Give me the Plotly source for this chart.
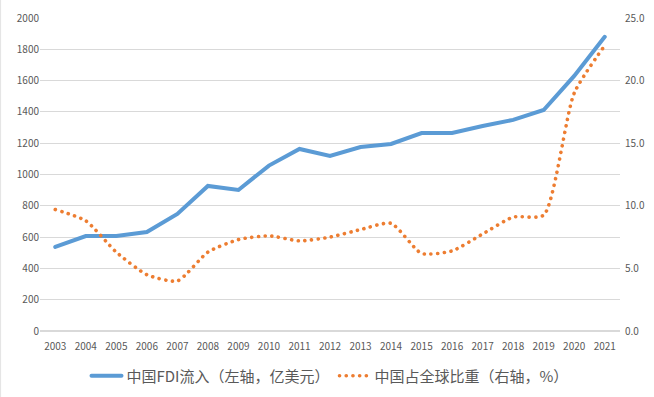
import plotly.graph_objects as go

years = [str(y) for y in range(2003, 2022)]
fdi = [537, 607, 607, 632, 748, 927, 901, 1057, 1163, 1118, 1176, 1195,
       1265, 1265, 1310, 1349, 1412, 1630, 1880]
share = [9.7, 8.8, 6.3, 4.5, 4.0, 6.3, 7.3, 7.6, 7.2, 7.5, 8.1, 8.6,
         6.2, 6.4, 7.75, 9.1, 9.25, 19.0, 22.8]

name1 = "中国FDI流入（左轴，亿美元）"
name2 = "中国占全球比重（右轴，%）"

font_family = "Noto Sans CJK SC, Noto Sans, sans-serif"
gray = "#595959"

fig = go.Figure()
fig.add_trace(go.Scatter(x=years, y=fdi, name=name1, mode="lines",
                         line=dict(color="#5B9BD5", width=4)))
fig.add_trace(go.Scatter(x=years, y=share, name=name2, mode="lines", yaxis="y2",
                         line=dict(color="#ED7D31", width=3.6, dash="0.1px,6.6px",
                                   shape="spline", smoothing=0.6)))

# faint border at the left edge of the chart area
fig.add_shape(type="line", xref="paper", yref="paper",
              x0=-40 / 580 + 0.001, x1=-40 / 580 + 0.001, y0=-66 / 313, y1=1 + 18 / 313,
              line=dict(color="#E3E3E3", width=1))

fig.update_layout(
    width=654, height=397,
    margin=dict(l=40, r=34, t=18, b=66, autoexpand=False),
    paper_bgcolor="white", plot_bgcolor="white",
    font=dict(family=font_family, color=gray, size=10),
    xaxis=dict(type="category", range=[-0.5, 18.5], showgrid=False,
               showline=False, ticks="outside", ticklen=6,
               tickcolor="rgba(0,0,0,0)", automargin=False,
               tickfont=dict(size=10, color=gray)),
    yaxis=dict(range=[0, 2000], dtick=200, showgrid=True, gridcolor="#D9D9D9",
               gridwidth=1, zeroline=True, zerolinecolor="#D9D9D9",
               automargin=False, tickfont=dict(size=10, color=gray)),
    yaxis2=dict(range=[0, 25], dtick=5, overlaying="y", side="right",
                showgrid=False, zeroline=False, tickformat=".1f",
                ticks="outside", ticklen=2, tickcolor="rgba(0,0,0,0)",
                automargin=False, tickfont=dict(size=10, color=gray)),
    legend=dict(orientation="h", x=0.5, xanchor="center",
                yref="container", y=0.053, yanchor="middle",
                font=dict(size=15, color=gray)),
    showlegend=True,
)

post = (
    "document.body.style.margin='0';"
    "var s=document.createElement('style');"
    "s.textContent='path.js-line{stroke-linecap:round;}';"
    "document.head.appendChild(s);"
)
fig.write_html("out.html", post_script=post,
               config={"displayModeBar": False})
